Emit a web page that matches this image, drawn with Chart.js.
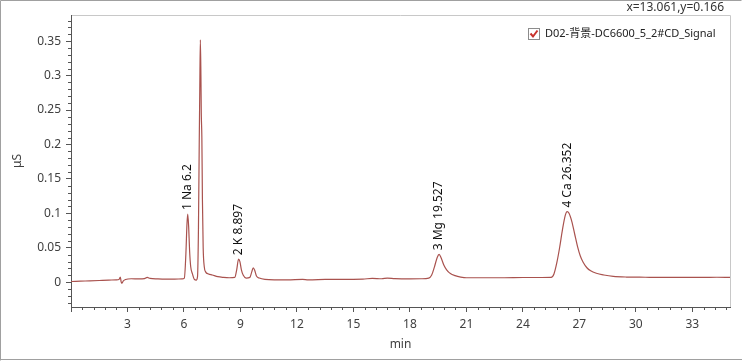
<!DOCTYPE html>
<html>
<head>
<meta charset="utf-8">
<script src="https://cdn.jsdelivr.net/npm/chart.js@4"></script>
<style>
  html, body { margin: 0; padding: 0; background: #fff; }
  canvas { display: block; }
</style>
</head>
<body>
<canvas id="chromChart" width="742" height="361"></canvas>
<script>
// retention time (min) and conductivity signal (uS)
const times = [0.0, 0.5, 1.0, 1.5, 2.0, 2.4, 2.55, 2.62, 2.66, 2.7, 2.78, 2.9, 3.2, 3.6, 3.9, 4.05, 4.2, 4.6, 5.0, 5.5,
  5.9, 6.02, 6.1, 6.16, 6.2, 6.25, 6.3, 6.36, 6.45, 6.55, 6.65, 6.72, 6.77, 6.81, 6.84, 6.87, 6.9, 6.92, 6.95, 6.98,
  7.02, 7.08, 7.15, 7.3, 7.5, 7.8, 8.1, 8.4, 8.7, 8.8, 8.9, 8.97, 9.05, 9.15, 9.3, 9.5, 9.6, 9.68, 9.76, 9.85,
  10.0, 10.3, 10.8, 11.5, 12.3, 12.6, 13.5, 14.5, 15.5, 16.0, 16.5, 16.8, 17.2, 18.0, 18.6, 19.0, 19.15, 19.3, 19.45, 19.55,
  19.65, 19.8, 19.95, 20.15, 20.4, 20.7, 21.0, 22.0, 23.0, 24.0, 25.0, 25.5, 25.65, 25.8, 25.95, 26.1, 26.25, 26.35, 26.45, 26.6,
  26.75, 26.9, 27.05, 27.2, 27.4, 27.6, 27.9, 28.3, 28.8, 29.5, 30.5, 31.5, 32.5, 33.5, 34.3, 35.0];
const signal = [0.001, 0.0015, 0.002, 0.0025, 0.003, 0.0035, 0.004, 0.0075, 0.001, -0.0015, 0.002, 0.004, 0.005, 0.0048, 0.0052, 0.007, 0.0055, 0.0048, 0.0045, 0.0045,
  0.0048, 0.006, 0.04, 0.085, 0.099, 0.08, 0.045, 0.022, 0.012, 0.004, 0.003, 0.008, 0.08, 0.2, 0.28, 0.352, 0.3, 0.245, 0.21, 0.12,
  0.05, 0.022, 0.015, 0.012, 0.0105, 0.008, 0.007, 0.0065, 0.007, 0.018, 0.0335, 0.03, 0.018, 0.01, 0.006, 0.007, 0.015, 0.021, 0.017, 0.009,
  0.006, 0.004, 0.0035, 0.0035, 0.004, 0.0035, 0.004, 0.0042, 0.0045, 0.0055, 0.005, 0.006, 0.0052, 0.0048, 0.005, 0.006, 0.01, 0.022, 0.036, 0.0405,
  0.036, 0.025, 0.018, 0.0125, 0.0095, 0.0075, 0.0065, 0.0065, 0.0065, 0.0068, 0.0068, 0.007, 0.012, 0.028, 0.05, 0.076, 0.097, 0.1025, 0.1, 0.088,
  0.07, 0.052, 0.038, 0.029, 0.021, 0.0165, 0.013, 0.0105, 0.0085, 0.0075, 0.0072, 0.007, 0.007, 0.007, 0.0072, 0.007];

const peakTimes = [6.2, 8.897, 19.527, 26.352];
const peakHeights = [0.099, 0.0335, 0.0405, 0.1025];
const peakLabels = ['1 Na 6.2', '2 K 8.897', '3 Mg 19.527', '4 Ca 26.352'];

const xTickValues = [0, 3, 6, 9, 12, 15, 18, 21, 24, 27, 30, 33];
const yTickValues = [0, 0.05, 0.1, 0.15, 0.2, 0.25, 0.3, 0.35];

const seriesName = 'D02-背景-DC6600_5_2#CD_Signal';
const cursorText = 'x=13.061,y=0.166';

const FONT = '"Noto Sans", "Noto Sans CJK SC", sans-serif';
Chart.defaults.font.family = FONT;
Chart.defaults.font.size = 12;
Chart.defaults.color = '#404040';

const points = times.map((t, i) => ({ x: t, y: signal[i] }));

// frame, plot box, minor ticks, peak labels, legend
const decorations = {
  id: 'decorations',
  beforeDraw(chart) {
    const { ctx, chartArea: a } = chart;
    ctx.save();
    ctx.strokeStyle = '#a0a0a0';
    ctx.lineWidth = 1;
    ctx.beginPath();
    ctx.moveTo(0.5, 360.5); ctx.lineTo(0.5, 0.5); ctx.lineTo(741.5, 0.5);
    ctx.moveTo(0, 359.5); ctx.lineTo(742, 359.5);
    ctx.stroke();
    ctx.strokeStyle = '#c8c8c8';
    ctx.beginPath();
    ctx.moveTo(a.left, a.top + 0.5); ctx.lineTo(a.right + 0.5, a.top + 0.5); ctx.lineTo(a.right + 0.5, a.bottom);
    ctx.stroke();
    ctx.fillStyle = '#333';
    ctx.font = '12px ' + FONT;
    ctx.textAlign = 'right';
    ctx.textBaseline = 'middle';
    ctx.fillText(cursorText, 724, 8);
    ctx.restore();
  },
  afterDraw(chart) {
    const { ctx, chartArea: a, scales } = chart;
    const xs = scales.x, ys = scales.y;
    ctx.save();
    ctx.strokeStyle = '#555';
    ctx.lineWidth = 1;
    ctx.beginPath();
    for (let i = -3; i <= 38; i++) {
      if (i % 5 === 0) continue;
      const py = Math.round(ys.getPixelForValue(i / 100)) + 0.5;
      ctx.moveTo(a.left - 3, py); ctx.lineTo(a.left, py);
    }
    for (let i = 1; i <= 58; i++) {
      if (i % 5 === 0) continue;
      const px = Math.round(xs.getPixelForValue(i * 0.6)) + 0.5;
      ctx.moveTo(px, a.bottom); ctx.lineTo(px, a.bottom + 3);
    }
    ctx.stroke();

    ctx.fillStyle = '#111';
    ctx.font = '12px ' + FONT;
    ctx.textAlign = 'left';
    ctx.textBaseline = 'middle';
    peakLabels.forEach((txt, i) => {
      const px = xs.getPixelForValue(peakTimes[i]);
      const py = ys.getPixelForValue(peakHeights[i]) - 4;
      ctx.save();
      ctx.translate(px, py);
      ctx.rotate(-Math.PI / 2);
      ctx.fillText(txt, 0, 0);
      ctx.restore();
    });

    // legend checkbox
    ctx.fillStyle = '#fff';
    ctx.fillRect(528, 28, 11, 11);
    ctx.strokeStyle = '#8c8c8c';
    ctx.strokeRect(528.5, 28.5, 11, 11);
    ctx.strokeStyle = '#c8322c';
    ctx.lineWidth = 2;
    ctx.beginPath();
    ctx.moveTo(530.5, 33.5); ctx.lineTo(533, 36.5); ctx.lineTo(537.5, 30.5);
    ctx.stroke();
    ctx.fillStyle = '#222';
    ctx.font = '11px ' + FONT;
    ctx.textAlign = 'left';
    ctx.fillText(seriesName, 545, 34);
    ctx.restore();
  }
};

new Chart(document.getElementById('chromChart').getContext('2d'), {
  type: 'line',
  data: {
    datasets: [{
      label: seriesName,
      data: points,
      borderColor: '#a9524e',
      borderWidth: 1.2,
      pointRadius: 0,
      cubicInterpolationMode: 'monotone',
      fill: false
    }]
  },
  plugins: [decorations],
  options: {
    responsive: false,
    animation: false,
    devicePixelRatio: 1,
    layout: { padding: { left: 0, top: 15, right: 12, bottom: 0 } },
    plugins: {
      legend: { display: false },
      tooltip: { enabled: false }
    },
    scales: {
      x: {
        type: 'linear',
        min: 0,
        max: 35,
        afterFit: (s) => { s.height = 54; },
        afterBuildTicks: (s) => { s.ticks = xTickValues.map(v => ({ value: v })); },
        grid: { drawOnChartArea: false, tickLength: 5, tickColor: '#555' },
        border: { color: '#555' },
        ticks: { padding: 5, color: '#404040', callback: (v) => v === 0 ? '' : String(v) },
        title: { display: true, text: 'min', color: '#404040', padding: { top: 0, bottom: 9 } }
      },
      y: {
        min: -0.036,
        max: 0.388,
        afterFit: (s) => { s.width = 71; },
        afterBuildTicks: (s) => { s.ticks = yTickValues.map(v => ({ value: v })); },
        grid: { drawOnChartArea: false, tickLength: 5, tickColor: '#555' },
        border: { color: '#555' },
        ticks: { padding: 5, color: '#404040', callback: (v) => String(v) },
        title: { display: true, text: 'μS', color: '#404040', padding: { top: 10, bottom: 0 } }
      }
    }
  }
});
</script>
</body>
</html>
